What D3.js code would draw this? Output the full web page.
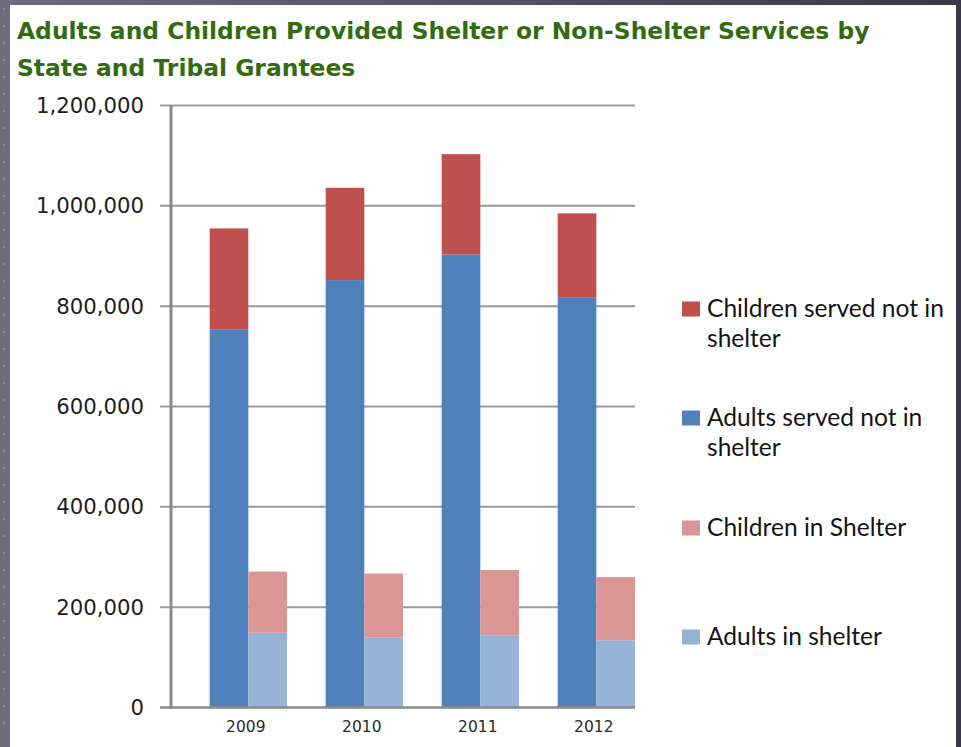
<!DOCTYPE html>
<html>
<head>
<meta charset="utf-8">
<script src="https://cdn.jsdelivr.net/npm/d3@7"></script>
<style>
  html, body { margin: 0; padding: 0; background: #3e3c4c; }
  svg { display: block; }
</style>
</head>
<body>
<div id="chart"></div>
<script>
// values
var years = ["2009", "2010", "2011", "2012"];
var adultsNotInShelter = [754000, 852000, 903000, 818000];
var childrenNotInShelter = [201000, 184000, 200000, 167000];
var adultsInShelter = [149000, 140000, 144000, 134000];
var childrenInShelter = [122000, 127000, 130000, 126000];
var yTicks = [0, 200000, 400000, 600000, 800000, 1000000, 1200000];

var legendItems = [
  { "color": "#c0504d", "lines": ["Children served not in", "shelter"] },
  { "color": "#4f81bd", "lines": ["Adults served not in", "shelter"] },
  { "color": "#d99694", "lines": ["Children in Shelter"] },
  { "color": "#95b3d7", "lines": ["Adults in shelter"] }
];

var width = 961, height = 747;

var svg = d3.select("#chart").append("svg")
    .attr("width", width)
    .attr("height", height);

//dark slide background with a lighter strip on the left
var bg = svg.append("defs").append("linearGradient")
    .attr("id", "bg").attr("x1", 0).attr("x2", 1).attr("y1", 0).attr("y2", 0);
bg.append("stop").attr("offset", "0%").attr("stop-color", "#6f6b80");
bg.append("stop").attr("offset", "100%").attr("stop-color", "#3a3846");
svg.append("rect").attr("width", width).attr("height", height).attr("fill", "url(#bg)");

svg.selectAll("circle.dot")
    .data(d3.range(1, 44))
    .enter().append("circle")
    .attr("class", "dot")
    .attr("cx", 4)
    .attr("cy", function (d) { return d * 17 - 8; })
    .attr("r", 1.3)
    .attr("fill", "#8c889c");

//white panel
svg.append("rect")
    .attr("x", 10).attr("y", 5)
    .attr("width", 946).attr("height", 742)
    .attr("fill", "#ffffff");

//helper: shrink or grow the font so a text has the wanted width
function fitWidth(sel, w) {
  var fs = parseFloat(sel.attr("font-size"));
  var len = sel.node().getComputedTextLength();
  if (len > 0) sel.attr("font-size", (fs * w / len).toFixed(2) + "px");
}

//title, squeezed a little sideways like the picture
var title = svg.append("g")
    .attr("font-family", "DejaVu Sans, Verdana, sans-serif")
    .attr("font-weight", "bold")
    .attr("font-size", "22.5px")
    .attr("fill", "#336b10");
var title1 = title.append("text")
    .text("Adults and Children Provided Shelter or Non-Shelter Services by");
var title2 = title.append("text")
    .text("State and Tribal Grantees");
var squeeze = 853 / title1.node().getComputedTextLength();
title1.attr("transform", "translate(17,39) scale(" + squeeze + ",1)");
title2.attr("transform", "translate(17,76) scale(" + squeeze + ",1)");

//scales
var x = d3.scaleBand().domain(years).range([171, 635]).paddingInner(0).paddingOuter(0);
var sub = d3.scaleBand().domain(["gap", "notShelter", "shelter"]).range([0, x.bandwidth()]);
var y = d3.scaleLinear().domain([0, 1200000]).range([707.5, 105.5]);

//gridlines
svg.append("g").selectAll("line")
    .data(yTicks.slice(1))
    .enter().append("line")
    .attr("x1", 160).attr("x2", 635)
    .attr("y1", function (d) { return y(d); })
    .attr("y2", function (d) { return y(d); })
    .attr("stroke", "#9a9a9a")
    .attr("stroke-width", 2);

//y labels
var yLabels = svg.append("g").selectAll("text")
    .data(yTicks)
    .enter().append("text")
    .attr("x", 144)
    .attr("y", function (d) { return y(d); })
    .attr("dy", "0.36em")
    .attr("text-anchor", "end")
    .attr("font-family", "DejaVu Sans, Verdana, sans-serif")
    .attr("font-size", "21px")
    .attr("fill", "#1e1e1e")
    .text(function (d) { return d3.format(",")(d); });
var topLabel = yLabels.filter(function (d) { return d === 1200000; });
fitWidth(topLabel, 108);
yLabels.attr("font-size", topLabel.attr("font-size"));

//stacked bars
var rows = years.map(function (yr, i) {
  return {
    year: yr,
    adultsNot: adultsNotInShelter[i],
    childrenNot: childrenNotInShelter[i],
    adultsIn: adultsInShelter[i],
    childrenIn: childrenInShelter[i]
  };
});

var notStack = d3.stack().keys(["adultsNot", "childrenNot"])(rows);
var inStack = d3.stack().keys(["adultsIn", "childrenIn"])(rows);
var colorOf = { adultsNot: "#4f81bd", childrenNot: "#c0504d", adultsIn: "#95b3d7", childrenIn: "#d99694" };

function drawStack(stack, slot) {
  svg.append("g").selectAll("g")
      .data(stack)
      .enter().append("g")
      .attr("fill", function (s) { return colorOf[s.key]; })
      .selectAll("rect")
      .data(function (s) { return s; })
      .enter().append("rect")
      .attr("x", function (d) { return x(d.data.year) + sub(slot); })
      .attr("width", sub.bandwidth())
      .attr("y", function (d) { return y(d[1]); })
      .attr("height", function (d) { return y(d[0]) - y(d[1]); });
}
drawStack(notStack, "notShelter");
drawStack(inStack, "shelter");

//axes lines
svg.append("line")
    .attr("x1", 171).attr("x2", 171)
    .attr("y1", y(1200000)).attr("y2", y(0) + 1)
    .attr("stroke", "#8a8a8a").attr("stroke-width", 3);
svg.append("line")
    .attr("x1", 160).attr("x2", 635)
    .attr("y1", y(0)).attr("y2", y(0))
    .attr("stroke", "#8a8a8a").attr("stroke-width", 2.5);

//year labels
svg.append("g").selectAll("text")
    .data(years)
    .enter().append("text")
    .attr("x", function (d) { return x(d) + x.bandwidth() * 0.645; })
    .attr("y", 732)
    .attr("text-anchor", "middle")
    .attr("font-family", "DejaVu Sans, Verdana, sans-serif")
    .attr("font-size", "15.5px")
    .attr("fill", "#2a2a2a")
    .text(function (d) { return d; });

//legend
var legendY = [309, 418, 528, 637];
var legend = svg.append("g").selectAll("g")
    .data(legendItems)
    .enter().append("g")
    .attr("transform", function (d, i) { return "translate(682," + legendY[i] + ")"; });

legend.append("rect")
    .attr("x", 0).attr("y", -7.5)
    .attr("width", 18).attr("height", 15)
    .attr("fill", function (d) { return d.color; });

var legendText = legend.append("text")
    .attr("x", 25)
    .attr("y", 7.5)
    .attr("font-family", "Lato, Open Sans, sans-serif")
    .attr("font-size", "21px")
    .attr("fill", "#141414");
legendText.selectAll("tspan")
    .data(function (d) { return d.lines; })
    .enter().append("tspan")
    .attr("x", 25)
    .attr("dy", function (d, i) { return i === 0 ? 0 : 30; })
    .text(function (d) { return d; });

//size legend font from the first line width
var firstSpan = legendText.filter(function (d, i) { return i === 0; }).select("tspan");
var spanLen = firstSpan.node().getComputedTextLength();
var lfs = 21 * 237 / spanLen;
legendText.attr("font-size", lfs.toFixed(2) + "px");
</script>
</body>
</html>
